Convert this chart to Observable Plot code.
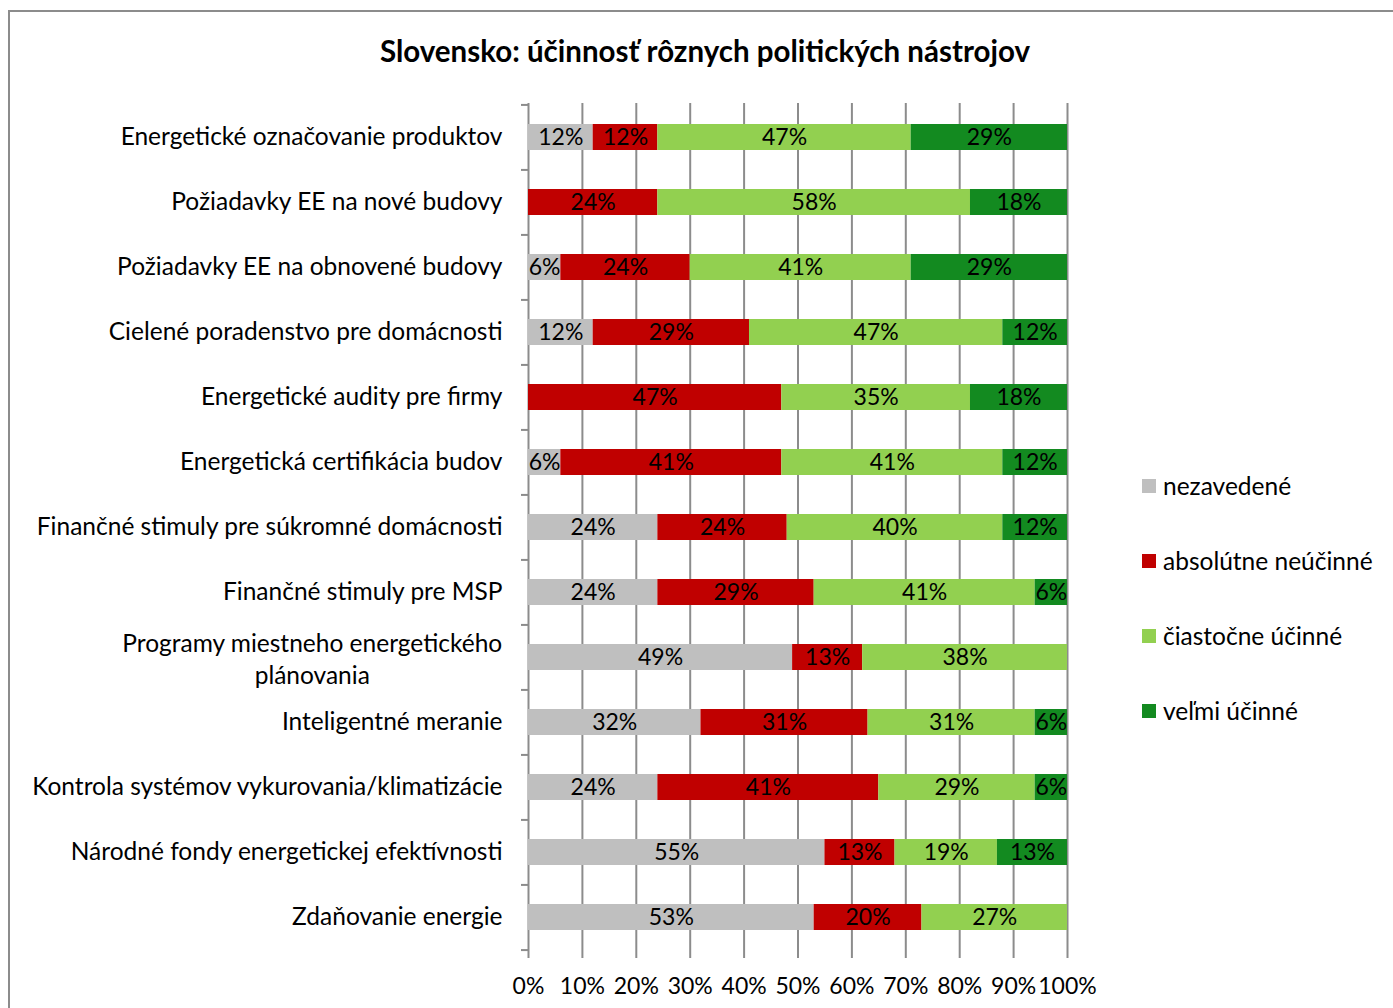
<!DOCTYPE html>
<html>
<head>
<meta charset="utf-8">
<script src="https://cdn.jsdelivr.net/npm/d3@7"></script>
<script src="https://cdn.jsdelivr.net/npm/@observablehq/plot@0.6"></script>
<style>
  html, body { margin: 0; padding: 0; background: #fff; }
  body { width: 1393px; height: 1008px; overflow: hidden; position: relative; font-family: Lato, "Noto Sans", sans-serif; }
  #frame { position: absolute; left: 8px; top: 10px; width: 1400px; height: 1010px; border: 2px solid #8c8c8c; box-sizing: border-box; }
  #title { position: absolute; left: 9px; width: 1392px; top: 33px; text-align: center; font-weight: bold; font-size: 29.5px; line-height: 36px; color: #000; }
  #chart { position: absolute; left: 0; top: 90px; }
  #legend { position: absolute; left: 1142px; top: 472px; font-size: 24.5px; color: #000; }
  .item { position: absolute; white-space: nowrap; height: 28px; line-height: 28px; }
  .sw { position: absolute; left: 0; top: 7px; width: 14px; height: 14px; }
  .lab { position: absolute; left: 21px; top: 0; }
</style>
</head>
<body>
<div id="frame"></div>
<div id="title">Slovensko: účinnosť rôznych politických nástrojov</div>
<div id="chart"></div>
<div id="legend"></div>
<script>
const categories = [
  "Energetické označovanie produktov",
  "Požiadavky EE na nové budovy",
  "Požiadavky EE na obnovené budovy",
  "Cielené poradenstvo pre domácnosti",
  "Energetické audity pre firmy",
  "Energetická certifikácia budov",
  "Finančné stimuly pre súkromné domácnosti",
  "Finančné stimuly pre MSP",
  "Programy miestneho energetického\nplánovania",
  "Inteligentné meranie",
  "Kontrola systémov vykurovania/klimatizácie",
  "Národné fondy energetickej efektívnosti",
  "Zdaňovanie energie"
];
const seriesNames = ["nezavedené", "absolútne neúčinné", "čiastočne účinné", "veľmi účinné"];
const seriesColors = ["#bfbfbf", "#c00000", "#92d050", "#138a20"];
const nezavedene      = [12, 0, 6, 12, 0, 6, 24, 24, 49, 32, 24, 55, 53];
const absolutneNeucin = [12, 24, 24, 29, 47, 41, 24, 29, 13, 31, 41, 13, 20];
const ciastocneUcin   = [47, 58, 41, 47, 35, 41, 40, 41, 38, 31, 29, 19, 27];
const velmiUcin       = [29, 18, 29, 12, 18, 12, 12, 6, 0, 6, 6, 13, 0];
const xTicks = [0, 10, 20, 30, 40, 50, 60, 70, 80, 90, 100];

const seriesValues = [nezavedene, absolutneNeucin, ciastocneUcin, velmiUcin];
const data = [];
categories.forEach((c, i) => {
  seriesNames.forEach((s, j) => {
    const v = seriesValues[j][i];
    if (v > 0) data.push({category: c, series: s, value: v});
  });
});

const FONT = "Lato, 'Noto Sans', sans-serif";
const FS = 23;      // values & ticks
const LFS = 24.5;   // category labels
const step = 847 / categories.length;

const single = categories.filter(c => !c.includes("\n"));
const multi = categories.filter(c => c.includes("\n"));

const ctx = document.createElement("canvas").getContext("2d");
ctx.font = `${LFS}px ${FONT}`;
const multiWidth = multi.length ? Math.max(...multi[0].split("\n").map(l => ctx.measureText(l).width)) : 0;

const stackOpts = {x: "value", y: "category", fill: "series", z: "series", order: seriesNames};

const chart = Plot.plot({
  width: 1393,
  height: 918,
  marginLeft: 528,
  marginRight: 326,
  marginTop: 13,
  marginBottom: 58,
  style: {fontFamily: FONT, fontSize: FS + "px", color: "#000", background: "transparent"},
  x: {domain: [0, 100], ticks: xTicks, tickFormat: d => d + "%", tickSize: 0, tickPadding: 27, label: null},
  y: {domain: categories, paddingInner: 0.6, paddingOuter: 0.3, axis: null, label: null},
  color: {domain: seriesNames, range: seriesColors},
  marks: [
    Plot.ruleX(xTicks, {x: d => d, stroke: "#8c8c8c", strokeWidth: 2, strokeOpacity: 1, insetBottom: -8}),
    Plot.ruleY(categories, {y: d => d, x1: 0, x2: 0, insetLeft: -7, dy: -step / 2, stroke: "#8c8c8c", strokeWidth: 2}),
    Plot.ruleY(categories.slice(-1), {y: d => d, x1: 0, x2: 0, insetLeft: -7, dy: step / 2, stroke: "#8c8c8c", strokeWidth: 2}),
    Plot.barX(data, Plot.stackX(stackOpts)),
    Plot.text(data, Plot.stackX({...stackOpts, text: d => d.value + "%", fill: "#000", fontSize: FS})),
    Plot.text(single, {y: d => d, frameAnchor: "left", textAnchor: "end", dx: -26, fill: "#000", fontSize: LFS}),
    Plot.text(multi, {y: d => d, frameAnchor: "left", textAnchor: "middle", dx: -26 - multiWidth / 2, lineHeight: 1.3, fill: "#000", fontSize: LFS})
  ]
});
document.getElementById("chart").appendChild(chart);

const legend = document.getElementById("legend");
seriesNames.forEach((s, j) => {
  const it = document.createElement("div");
  it.className = "item";
  it.style.top = (j * 75) + "px";
  it.innerHTML = `<span class="sw" style="background:${seriesColors[j]}"></span><span class="lab">${s}</span>`;
  legend.appendChild(it);
});
</script>
</body>
</html>
